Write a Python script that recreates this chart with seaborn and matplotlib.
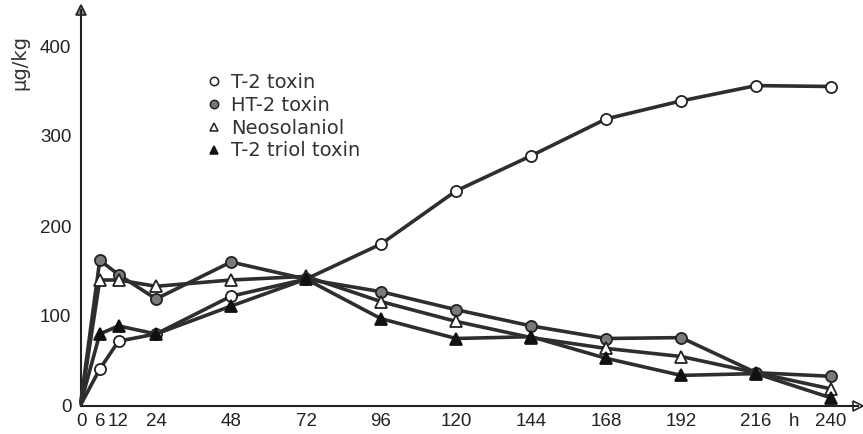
import matplotlib
matplotlib.use("Agg")
import matplotlib.pyplot as plt
import seaborn as sns
import pandas as pd
from matplotlib.lines import Line2D

hours = [0, 6, 12, 24, 48, 72, 96, 120, 144, 168, 192, 216, 240]
t2_toxin = [2, 41, 72, 80, 122, 141, 180, 239, 278, 319, 339, 356, 355]
ht2_toxin = [6, 162, 146, 119, 160, 141, 127, 107, 89, 75, 76, 37, 33]
neosolaniol = [4, 140, 140, 133, 140, 144, 116, 94, 76, 64, 55, 37, 19]
t2_triol = [4, 80, 89, 80, 111, 141, 97, 75, 77, 53, 34, 36, 9]

series_names = ["T-2 toxin", "HT-2 toxin", "Neosolaniol", "T-2 triol toxin"]
xtick_vals = [0, 6, 12, 24, 48, 72, 96, 120, 144, 168, 192, 216, 228, 240]
xtick_labels = ["0", "6", "12", "24", "48", "72", "96", "120", "144", "168", "192", "216", "h", "240"]
ytick_vals = [0, 100, 200, 300, 400]
ylabel = "µg/kg"

df = pd.DataFrame({
    "hour": hours * 4,
    "value": t2_toxin + ht2_toxin + neosolaniol + t2_triol,
    "toxin": sum([[n] * len(hours) for n in series_names], []),
})

styles = {
    "T-2 toxin": dict(marker="o", mfc="white", mec="#222222"),
    "HT-2 toxin": dict(marker="o", mfc="#7a7a7a", mec="#222222"),
    "Neosolaniol": dict(marker="^", mfc="white", mec="#222222"),
    "T-2 triol toxin": dict(marker="^", mfc="#111111", mec="#111111"),
}

sns.set_style("white")
plt.rcParams["font.family"] = ["Liberation Sans", "DejaVu Sans"]

fig = plt.figure(figsize=(8.63, 4.34), dpi=100)
ax = fig.add_axes([81 / 863, 28 / 434, (858 - 81) / 863, (406 - 10) / 434])

line_color = "#2e2e2e"
for name in series_names:
    sub = df[df["toxin"] == name]
    st = styles[name]
    sns.lineplot(data=sub, x="hour", y="value", ax=ax, color=line_color,
                 linewidth=2.6, marker=st["marker"], markersize=8,
                 markerfacecolor=st["mfc"], markeredgecolor=st["mec"],
                 markeredgewidth=1.3, markevery=list(range(1, len(hours))),
                 clip_on=False, zorder=3, legend=False)

ax.set_xlim(0, 248.6)
ax.set_ylim(0, 440)
ax.set_xlabel("")
ax.set_ylabel("")

for s in ["top", "right"]:
    ax.spines[s].set_visible(False)
for s in ["left", "bottom"]:
    ax.spines[s].set_linewidth(1.5)
    ax.spines[s].set_color("#222222")

ax.set_xticks(xtick_vals)
ax.set_xticklabels(xtick_labels)
ax.set_yticks(ytick_vals)
ax.set_yticklabels([str(v) for v in ytick_vals])
ax.tick_params(axis="x", direction="in", length=11, width=1.1, pad=5,
               labelsize=13.5, colors="#222222")
ax.tick_params(axis="y", direction="in", length=11, width=1.1, pad=7,
               labelsize=13.5, colors="#222222")
xt = ax.xaxis.get_major_ticks()
xt[0].tick1line.set_visible(False)
xt[xtick_vals.index(228)].tick1line.set_visible(False)
ax.yaxis.get_major_ticks()[0].tick1line.set_visible(False)

# axis arrowheads
ax.plot([1.0], [0], marker=">", color="#222222", markersize=7, mfc="white",
        mew=1.2, transform=ax.transAxes, clip_on=False)
ax.plot([0], [1.0], marker="^", color="#222222", markersize=7, mfc="#888888",
        mew=1.2, transform=ax.transAxes, clip_on=False)

fig.text(20 / 863, 1 - 63 / 434, ylabel, rotation=90, ha="center", va="center",
         fontsize=14, color="#333333", family=["DejaVu Sans"])

handles = [Line2D([0], [0], linestyle="none", marker=styles[n]["marker"],
                  markersize=6, markerfacecolor=styles[n]["mfc"],
                  markeredgecolor=styles[n]["mec"], markeredgewidth=1.1)
           for n in series_names]
leg = ax.legend(handles, series_names, loc="upper left",
                bbox_to_anchor=((198 - 81) / 777, (406 - 65) / 396),
                frameon=False, prop={"family": "DejaVu Sans", "size": 14},
                handlelength=0.8, handletextpad=0.5, labelspacing=0.2,
                borderaxespad=0)
for t in leg.get_texts():
    t.set_color("#333333")

fig.savefig("out.png", dpi=100, facecolor="white")
